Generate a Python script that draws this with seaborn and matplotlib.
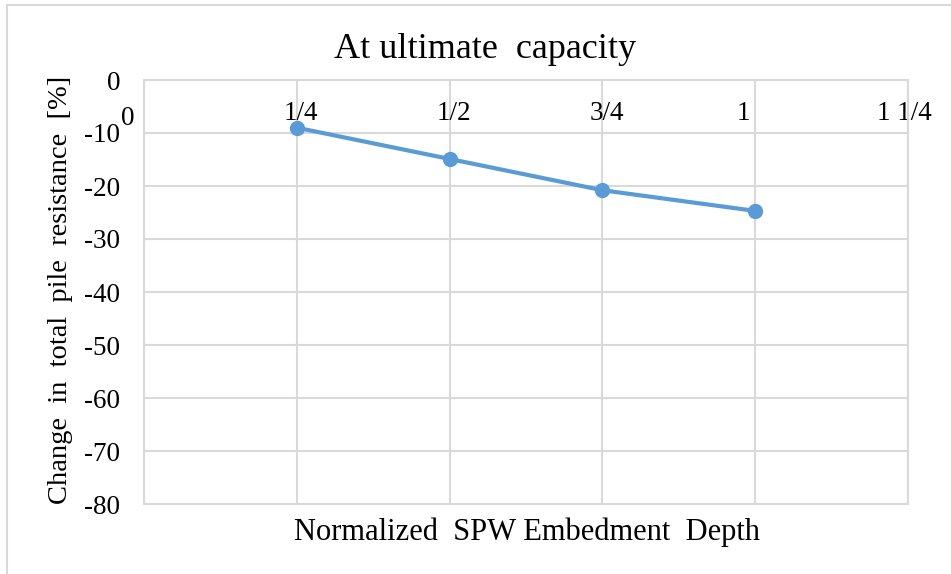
import numpy as np
import pandas as pd
import matplotlib
matplotlib.use("Agg")
import matplotlib.pyplot as plt
from matplotlib.patches import Rectangle
from matplotlib.transforms import ScaledTranslation
import seaborn as sns

# data
depth = [0.25, 0.5, 0.75, 1.0]
change = [-9.0, -14.9, -20.8, -24.7]

x_ticks = [0, 0.25, 0.5, 0.75, 1.0, 1.25]
x_tick_labels = ["0", "1/4", "1/2", "3/4", "1", "1 1/4"]
y_ticks = [0, -10, -20, -30, -40, -50, -60, -70, -80]

title = "At ultimate  capacity"
xlabel = "Normalized  SPW Embedment  Depth"
ylabel = "Change  in  total  pile  resistance  [%]"

df = pd.DataFrame({"depth": depth, "change": change})

sns.set_theme(style="white")
plt.rcParams["font.family"] = ["Liberation Serif", "DejaVu Serif"]
plt.rcParams["text.color"] = "black"

W, H = 951, 574
fig = plt.figure(figsize=(W / 100, H / 100), dpi=100)
ax = fig.add_axes([144 / W, 1 - 504 / H, 764 / W, 424 / H])

grid_c = "#d9d9d9"
sns.lineplot(data=df, x="depth", y="change", ax=ax, color="#5b9bd5",
             linewidth=3, marker="o", markersize=11, markeredgewidth=0)

ax.set_xlim(0, 1.25)
ax.set_ylim(-80, 0)
ax.set_xticks(x_ticks)
ax.set_xticklabels(x_tick_labels)
ax.set_yticks(y_ticks)
ax.set_yticklabels([str(v) for v in y_ticks])
ax.grid(True, color=grid_c, linewidth=1.5)
ax.set_axisbelow(True)
for s in ax.spines.values():
    s.set_color(grid_c)
    s.set_linewidth(1.5)

ax.xaxis.tick_top()
ax.tick_params(axis="x", length=0, labelsize=19.5, pad=-33, colors="black")
ax.tick_params(axis="y", length=0, labelsize=19.5, pad=17, colors="black")
ax.set_xlabel("")
ax.set_ylabel("")

# Excel nudges a few of the category labels sideways
shifts = [(-16, -5), (4, 0), (4, 0), (4, 0), (-12, 0), (-4, 0)]
for lab, (dx, dy) in zip(ax.get_xticklabels(which="major"), shifts):
    lab.set_transform(lab.get_transform() +
                      ScaledTranslation(dx / 100, dy / 100, fig.dpi_scale_trans))

fig.text(485 / W, 1 - 50 / H, title, ha="center", va="center", fontsize=26)
fig.text(527 / W, 1 - 532 / H, xlabel, ha="center", va="center", fontsize=22)
fig.text(61 / W, 1 - 290 / H, ylabel, ha="center", va="center",
         rotation=90, fontsize=20.5)

# chart-area border
fig.patches.append(Rectangle((7 / W, -0.1), 2, 1 - 5 / H + 0.1,
                             transform=fig.transFigure, fill=False,
                             edgecolor=grid_c, linewidth=1.5))

fig.savefig("out.png", dpi=100)
